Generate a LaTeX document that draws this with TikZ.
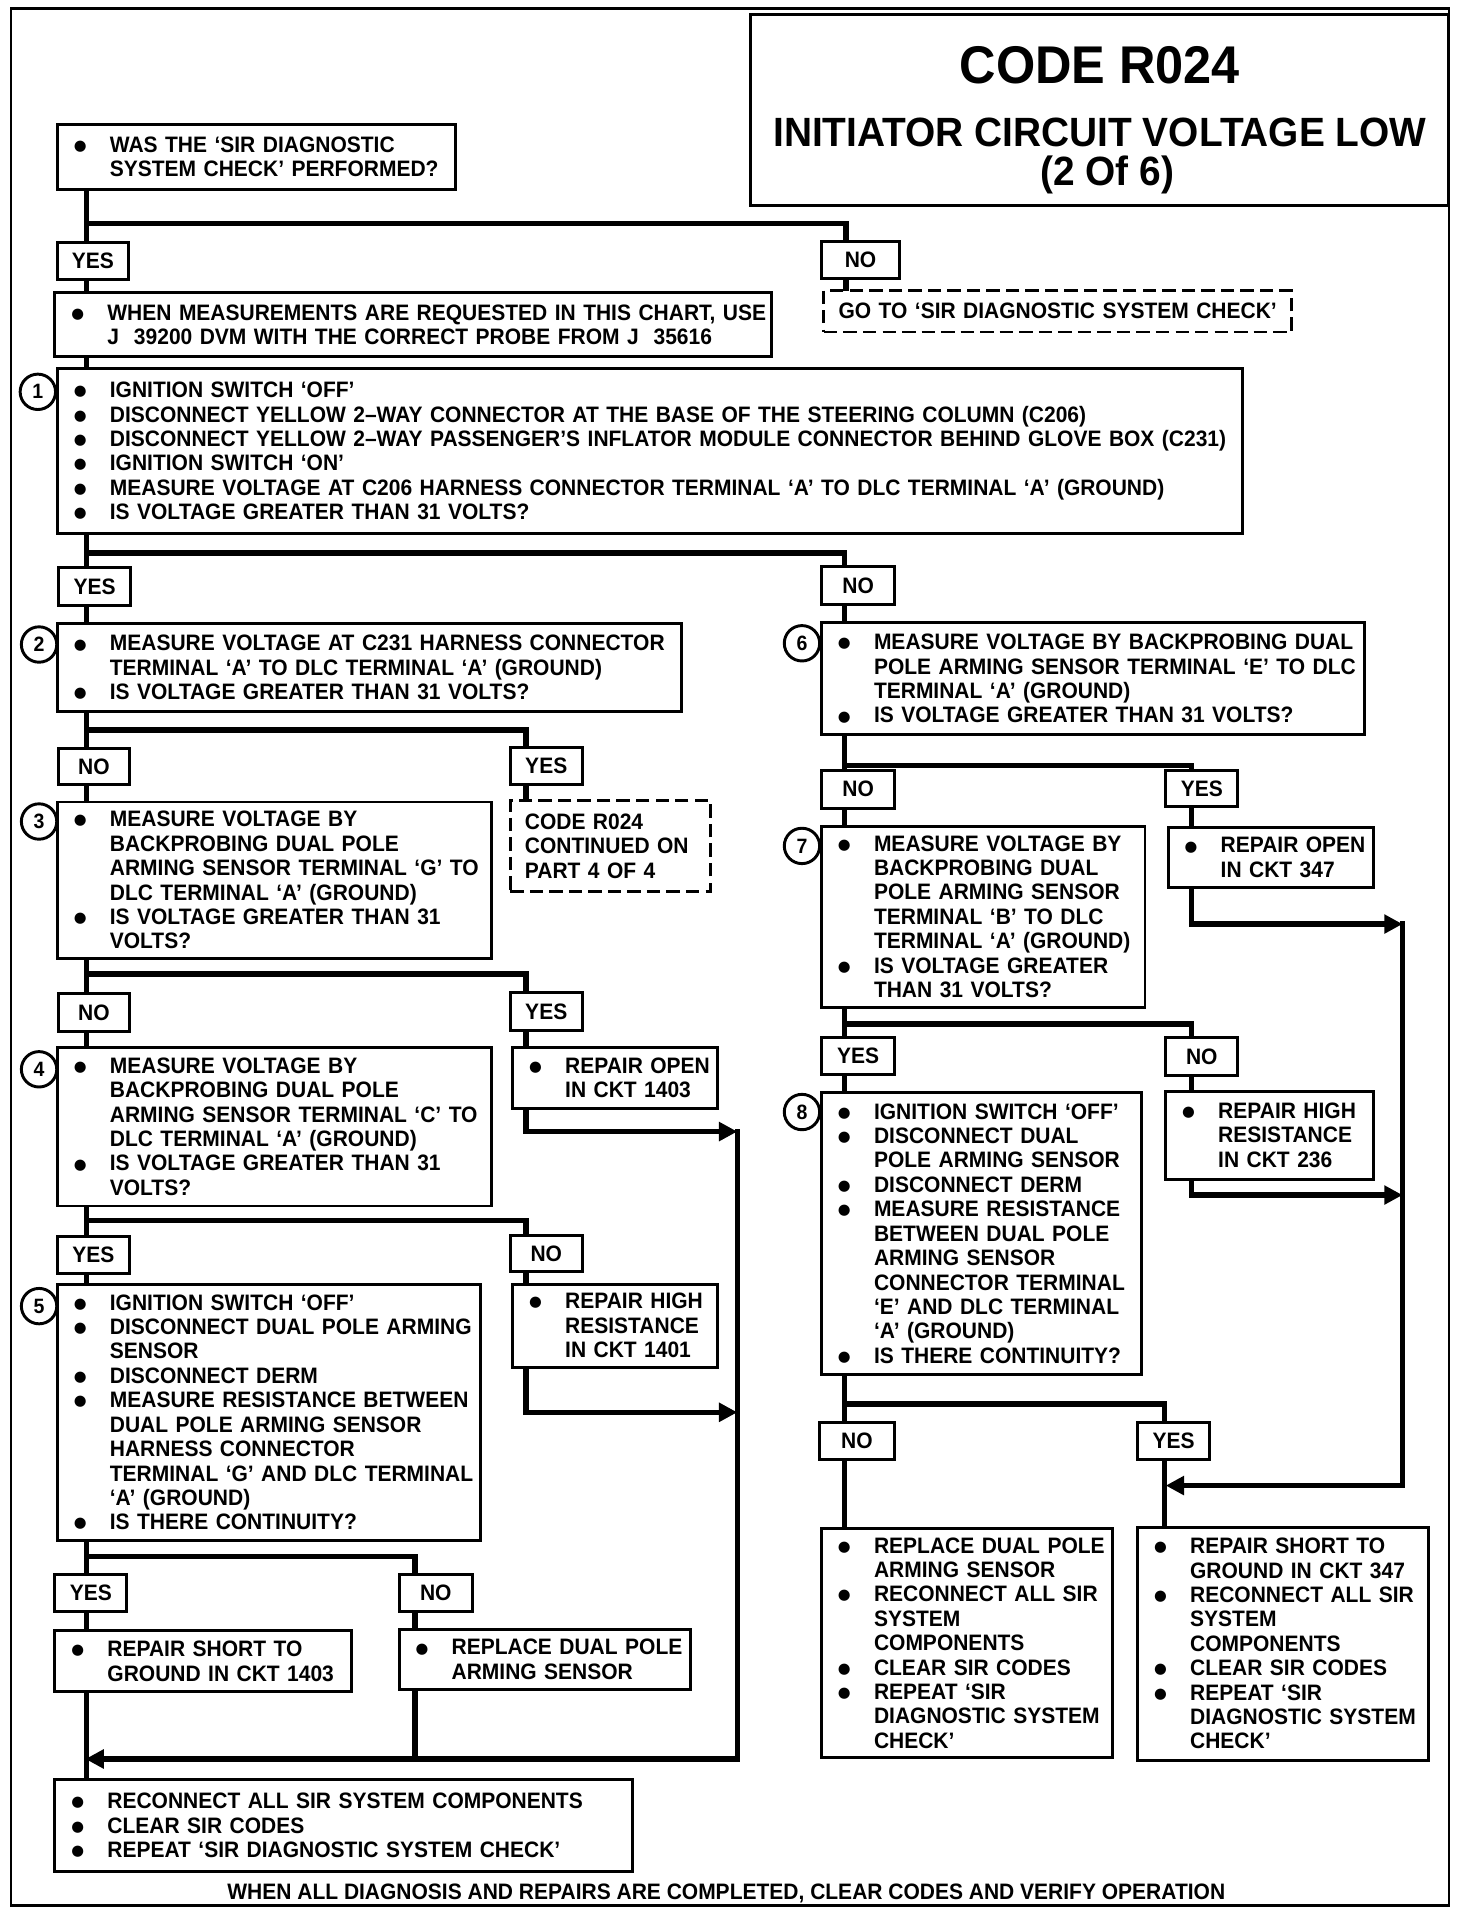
\documentclass[tikz,border=0pt]{standalone}
\usepackage{fontspec}
\setmainfont{Liberation Sans}[FakeStretch=0.95]
\newfontfamily\bodyfam{Liberation Sans}[FakeStretch=0.94]
\newfontfamily\symfam{DejaVu Sans}
\usepackage{graphicx}
\usetikzlibrary{arrows.meta,backgrounds,calc}
\newcommand{\bodyfont}{\bodyfam\bfseries\fontsize{18.3}{20}\selectfont}
\newcommand{\dotb}{\raisebox{1.6pt}{\symfam\fontsize{12}{12}\selectfont ●}}
\newcommand{\B}[1]{\mbox{\makebox[31pt][l]{\hspace{1.5pt}\dotb}#1}}
\newcommand{\C}[1]{\mbox{\hspace*{31pt}#1}}
\newcommand{\N}[1]{\mbox{#1}}
\tikzset{
 box/.style={draw, line width=2.4pt, fill=white, anchor=north west, inner xsep=12pt, inner ysep=0pt, outer sep=0pt, align=left, font=\bodyfont},
 dbox/.style={dash pattern=on 11pt off 5pt},
 lbl/.style={draw, line width=2.4pt, fill=white, anchor=north west, inner sep=0pt, outer sep=0pt, font=\bodyfont},
 numc/.style={circle, draw, line width=2.4pt, minimum size=29pt, inner sep=0pt, font=\bodyfam\bfseries\fontsize{17}{17}\selectfont},
 conn/.style={line width=4.5pt},
 arr/.style={-{Triangle[length=15pt,width=15pt]}},
}
\newcommand{\bx}[7][]{%
 \pgfmathsetmacro{\bw}{#5-#3}\pgfmathsetmacro{\bh}{#6-#4}\pgfmathsetmacro{\tw}{#5-#3-24}%
 \node[box,minimum width=\bw pt,minimum height=\bh pt,text width=\tw pt,#1] (#2) at (#3,#4) {#7};}
\newcommand{\lb}[6]{%
 \pgfmathsetmacro{\bw}{#4-#2}\pgfmathsetmacro{\bh}{#5-#3}%
 \node[lbl,minimum width=\bw pt,minimum height=\bh pt] (#1) at (#2,#3) {#6};}
\begin{document}
\begin{tikzpicture}[x=1pt,y=-1pt]
\useasboundingbox (0,0) rectangle (1206,1568);
\draw[line width=2.2pt] (9,7) rectangle (1187,1561);
% title
\node[draw, line width=2.4pt, anchor=north west, minimum width=572pt, minimum height=156pt, outer sep=0pt] (tbox) at (615,12) {};
\node[font=\fontsize{43.5}{44}\selectfont\bfseries, anchor=base] (t1) at (901,68) {CODE R024};
\node[font=\fontsize{33.5}{34}\selectfont\bfseries, anchor=base] (t2) at (901,120) {INITIATOR CIRCUIT VOLTAGE LOW};
\node[font=\fontsize{33.5}{34}\selectfont\bfseries, anchor=base] (t3) at (907,152) {(2 Of 6)};
% left column
\bx{A}{47}{102}{373}{155}{\B{WAS THE ‘SIR DIAGNOSTIC}\\\C{SYSTEM CHECK’ PERFORMED?}}
\lb{yes1}{47}{199}{105}{229}{YES}
\lb{no1}{673}{198}{737}{228}{NO}
\bx{B}{45}{240}{632}{292}{\B{WHEN MEASUREMENTS ARE REQUESTED IN THIS CHART, USE}\\\C{J~~39200 DVM WITH THE CORRECT PROBE FROM J~~35616}}
\bx[dbox,inner xsep=11pt]{goto}{675}{238}{1058}{272}{\N{GO TO ‘SIR DIAGNOSTIC SYSTEM CHECK’}}
\bx{C1}{47}{302}{1018}{437}{\B{IGNITION SWITCH ‘OFF’}\\
\B{DISCONNECT YELLOW 2–WAY CONNECTOR AT THE BASE OF THE STEERING COLUMN (C206)}\\
\B{DISCONNECT YELLOW 2–WAY PASSENGER’S INFLATOR MODULE CONNECTOR BEHIND GLOVE BOX (C231)}\\
\B{IGNITION SWITCH ‘ON’}\\
\B{MEASURE VOLTAGE AT C206 HARNESS CONNECTOR TERMINAL ‘A’ TO DLC TERMINAL ‘A’ (GROUND)}\\
\B{IS VOLTAGE GREATER THAN 31 VOLTS?}}
\lb{yes2}{48}{465}{107}{496}{YES}
\lb{no2}{673}{464}{733}{495}{NO}
\bx{C2}{47}{511}{558}{583}{\B{MEASURE VOLTAGE AT C231 HARNESS CONNECTOR}\\
\C{TERMINAL ‘A’ TO DLC TERMINAL ‘A’ (GROUND)}\\
\B{IS VOLTAGE GREATER THAN 31 VOLTS?}}
\lb{no3}{48}{613}{106}{643}{NO}
\lb{yes3}{418}{612}{477}{643}{YES}
\bx[dbox]{cont}{418}{656}{582}{730}{\N{CODE R024}\\\N{CONTINUED ON}\\\N{PART 4 OF 4}}
\bx{C3}{47}{657}{403}{785}{\B{MEASURE VOLTAGE BY}\\
\C{BACKPROBING DUAL POLE}\\
\C{ARMING SENSOR TERMINAL ‘G’ TO}\\
\C{DLC TERMINAL ‘A’ (GROUND)}\\
\B{IS VOLTAGE GREATER THAN 31}\\
\C{VOLTS?}}
\lb{no4}{48}{814}{106}{845}{NO}
\lb{yes4}{418}{813}{477}{844}{YES}
\bx{C4}{47}{858}{403}{988}{\B{MEASURE VOLTAGE BY}\\
\C{BACKPROBING DUAL POLE}\\
\C{ARMING SENSOR TERMINAL ‘C’ TO}\\
\C{DLC TERMINAL ‘A’ (GROUND)}\\
\B{IS VOLTAGE GREATER THAN 31}\\
\C{VOLTS?}}
\bx{R1403}{420}{858}{588}{908}{\B{REPAIR OPEN}\\\C{IN CKT 1403}}
\lb{yes5}{47}{1013}{106}{1043}{YES}
\lb{no5}{418}{1012}{477}{1042}{NO}
\bx{C5}{47}{1052}{394}{1262}{\B{IGNITION SWITCH ‘OFF’}\\
\B{DISCONNECT DUAL POLE ARMING}\\
\C{SENSOR}\\
\B{DISCONNECT DERM}\\
\B{MEASURE RESISTANCE BETWEEN}\\
\C{DUAL POLE ARMING SENSOR}\\
\C{HARNESS CONNECTOR}\\
\C{TERMINAL ‘G’ AND DLC TERMINAL}\\
\C{‘A’ (GROUND)}\\
\B{IS THERE CONTINUITY?}}
\bx{R1401}{420}{1052}{588}{1120}{\B{REPAIR HIGH}\\\C{RESISTANCE}\\\C{IN CKT 1401}}
\lb{yes6}{45}{1290}{104}{1320}{YES}
\lb{no6}{327}{1290}{387}{1320}{NO}
\bx{RS1403}{45}{1336}{288}{1386}{\B{REPAIR SHORT TO}\\\C{GROUND IN CKT 1403}}
\bx{RDP}{327}{1335}{566}{1384}{\B{REPLACE DUAL POLE}\\\C{ARMING SENSOR}}
\bx{Final}{45}{1458}{518}{1533}{\B{RECONNECT ALL SIR SYSTEM COMPONENTS}\\
\B{CLEAR SIR CODES}\\
\B{REPEAT ‘SIR DIAGNOSTIC SYSTEM CHECK’}}
% right column
\bx{C6}{673}{510}{1118}{602}{\B{MEASURE VOLTAGE BY BACKPROBING DUAL}\\
\C{POLE ARMING SENSOR TERMINAL ‘E’ TO DLC}\\
\C{TERMINAL ‘A’ (GROUND)}\\
\B{IS VOLTAGE GREATER THAN 31 VOLTS?}}
\lb{no7}{673}{631}{733}{662}{NO}
\lb{yes7}{955}{631}{1014}{661}{YES}
\bx{C7}{673}{677}{938}{825}{\B{MEASURE VOLTAGE BY}\\
\C{BACKPROBING DUAL}\\
\C{POLE ARMING SENSOR}\\
\C{TERMINAL ‘B’ TO DLC}\\
\C{TERMINAL ‘A’ (GROUND)}\\
\B{IS VOLTAGE GREATER}\\
\C{THAN 31 VOLTS?}}
\bx{R347}{957}{678}{1125}{727}{\B{REPAIR OPEN}\\\C{IN CKT 347}}
\lb{yes8}{673}{850}{733}{880}{YES}
\lb{no8}{955}{850}{1014}{881}{NO}
\bx{C8}{673}{895}{935}{1126}{\B{IGNITION SWITCH ‘OFF’}\\
\B{DISCONNECT DUAL}\\
\C{POLE ARMING SENSOR}\\
\B{DISCONNECT DERM}\\
\B{MEASURE RESISTANCE}\\
\C{BETWEEN DUAL POLE}\\
\C{ARMING SENSOR}\\
\C{CONNECTOR TERMINAL}\\
\C{‘E’ AND DLC TERMINAL}\\
\C{‘A’ (GROUND)}\\
\B{IS THERE CONTINUITY?}}
\bx{R236}{955}{894}{1125}{966}{\B{REPAIR HIGH}\\\C{RESISTANCE}\\\C{IN CKT 236}}
\lb{no9}{671}{1165}{733}{1196}{NO}
\lb{yes9}{932}{1165}{991}{1196}{YES}
\bx{RDP2}{673}{1252}{911}{1440}{\B{REPLACE DUAL POLE}\\
\C{ARMING SENSOR}\\
\B{RECONNECT ALL SIR}\\
\C{SYSTEM}\\
\C{COMPONENTS}\\
\B{CLEAR SIR CODES}\\
\B{REPEAT ‘SIR}\\
\C{DIAGNOSTIC SYSTEM}\\
\C{CHECK’}}
\bx{RS347}{932}{1251}{1170}{1442}{\B{REPAIR SHORT TO}\\
\C{GROUND IN CKT 347}\\
\B{RECONNECT ALL SIR}\\
\C{SYSTEM}\\
\C{COMPONENTS}\\
\B{CLEAR SIR CODES}\\
\B{REPEAT ‘SIR}\\
\C{DIAGNOSTIC SYSTEM}\\
\C{CHECK’}}
% step numbers
\node[numc] (n1) at (31,321) {1};
\node[numc] (n2) at (32,528) {2};
\node[numc] (n3) at (32,673) {3};
\node[numc] (n4) at (32,876) {4};
\node[numc] (n5) at (32,1070) {5};
\node[numc] (n6) at (657,527) {6};
\node[numc] (n7) at (657,693) {7};
\node[numc] (n8) at (657,911) {8};
% footer
\node[font=\bodyfont, anchor=base] (foot) at (595,1556) {WHEN ALL DIAGNOSIS AND REPAIRS ARE COMPLETED, CLEAR CODES AND VERIFY OPERATION};
% junctions
\coordinate (j1) at (71,183);  \coordinate (j1r) at (693,183);
\coordinate (j2) at (71,453);  \coordinate (j2r) at (692,453);
\coordinate (j3) at (71,598);  \coordinate (j3r) at (431,598);
\coordinate (j4) at (71,798);  \coordinate (j4r) at (431,798);
\coordinate (j5) at (71,1000); \coordinate (j5r) at (431,1000);
\coordinate (j6) at (71,1275); \coordinate (j6r) at (340,1275);
\coordinate (j7) at (692,627); \coordinate (j7r) at (976,627);
\coordinate (j8) at (692,839); \coordinate (j8r) at (976,839);
\coordinate (j9) at (692,1150); \coordinate (j9r) at (954,1150);
\coordinate (a1) at (604,927); \coordinate (a2) at (604,1157);
\coordinate (m1) at (604,1441); \coordinate (m0) at (70,1441);
\coordinate (b1) at (1149,757); \coordinate (b2) at (1149,979);
\coordinate (b3) at (1149,1217); \coordinate (b4) at (955,1217);
\begin{scope}[on background layer]
\draw[conn] (A.south -| j1) -- (B.north -| j1);
\draw[conn] (j1) -- (j1r) -- (goto.north -| j1r);
\draw[conn] (B.south -| j1) -- (C1.north -| j1);
\draw[conn] (C1.south -| j2) -- (C2.north -| j2);
\draw[conn] (j2) -- (j2r) -- (C6.north -| j2r);
\draw[conn] (C2.south -| j3) -- (C3.north -| j3);
\draw[conn] (j3) -- (j3r) -- (cont.north -| j3r);
\draw[conn] (C3.south -| j4) -- (C4.north -| j4);
\draw[conn] (j4) -- (j4r) -- (R1403.north -| j4r);
\draw[conn] (C4.south -| j5) -- (C5.north -| j5);
\draw[conn] (j5) -- (j5r) -- (R1401.north -| j5r);
\draw[conn] (C5.south -| j6) -- (RS1403.north -| j6);
\draw[conn] (j6) -- (j6r) -- (RDP.north -| j6r);
\draw[conn] (RS1403.south -| j6) -- (Final.north -| j6);
\draw[conn] (RDP.south -| j6r) -- (j6r |- m0);
\draw[conn,arr] (R1403.south -| j4r) |- (a1);
\draw[conn,arr] (R1401.south -| j5r) |- (a2);
\draw[conn,arr,line cap=rect] (a1) -- (m1) -- (m0);
\draw[conn] (C6.south -| j7) -- (C7.north -| j7);
\draw[conn] (j7) -- (j7r) -- (R347.north -| j7r);
\draw[conn] (C7.south -| j8) -- (C8.north -| j8);
\draw[conn] (j8) -- (j8r) -- (R236.north -| j8r);
\draw[conn] (C8.south -| j9) -- (RDP2.north -| j9);
\draw[conn] (j9) -- (j9r) -- (RS347.north -| j9r);
\draw[conn,arr] (R347.south -| j7r) |- (b1);
\draw[conn,arr] (R236.south -| j8r) |- (b2);
\draw[conn,arr,line cap=rect] (b1) -- (b3) -- (b4);
\end{scope}
\end{tikzpicture}
\end{document}
